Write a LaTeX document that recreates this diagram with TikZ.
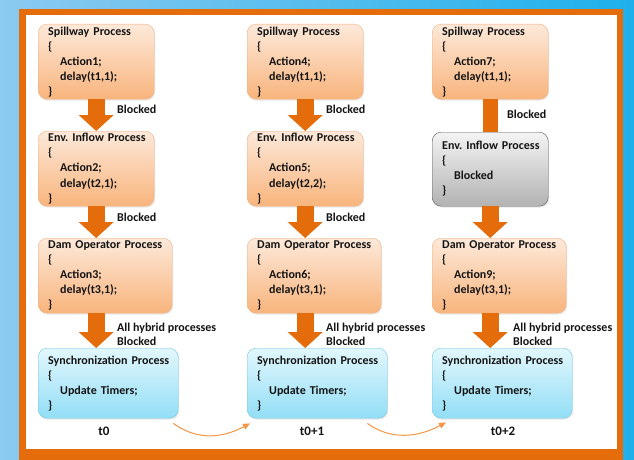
\documentclass[tikz,border=0pt]{standalone}
\usepackage{fontspec}
\setmainfont{Carlito}
\usetikzlibrary{arrows.meta,shadows,calc}
\frenchspacing

\definecolor{bgleft}{RGB}{140,202,240}
\definecolor{bgright}{RGB}{30,176,235}
\definecolor{frameorange}{RGB}{228,108,10}
\definecolor{peachtop}{RGB}{253,233,218}
\definecolor{peachbot}{RGB}{248,180,124}
\definecolor{peachline}{RGB}{243,176,128}
\definecolor{skytop}{RGB}{226,247,253}
\definecolor{skybot}{RGB}{146,222,246}
\definecolor{skyline}{RGB}{118,200,232}
\definecolor{greytop}{RGB}{244,244,244}
\definecolor{greybot}{RGB}{178,178,178}
\definecolor{greyline}{RGB}{90,90,90}
\definecolor{curveorange}{RGB}{247,150,70}
\definecolor{inkdark}{RGB}{20,20,20}

\begin{document}
\begin{tikzpicture}[x=1pt,y=-1pt,
    process/.style ={rounded corners=9pt, draw=peachline, top color=peachtop, bottom color=peachbot,
      drop shadow={opacity=0.18, shadow xshift=1pt, shadow yshift=-1.5pt},
      anchor=north west, align=left, text=inkdark, font=\fontsize{12}{15}\selectfont\bfseries,
      inner xsep=10pt, inner ysep=0pt, text width=96pt, minimum height=75pt},
    syncproc/.style ={process, draw=skyline, top color=skytop, bottom color=skybot,
      text width=120pt, minimum height=70pt},
    idleproc/.style ={process, draw=greyline, top color=greytop, bottom color=greybot,
      minimum height=74pt},
    flow/.style ={line width=17pt, draw=frameorange, -{Triangle[width=35pt, length=16pt, line width=0pt]}},
    shaft/.style ={line width=15pt, draw=frameorange},
    note/.style ={anchor=west, align=left, text=inkdark, inner sep=0pt,
      font=\fontsize{12}{14}\selectfont\bfseries},
    stamp/.style ={text=inkdark, inner sep=0pt, font=\fontsize{13}{15}\selectfont\bfseries},
    timeflow/.style ={draw=curveorange, line width=1pt, -{Triangle[width=6pt, length=7pt]}}]

   \useasboundingbox (0,0) rectangle (634,460);
   \fill[left color=bgleft, right color=bgright] (0,0) rectangle (634,460);
   \fill[frameorange] (19,9) rectangle (623,460);
   \fill[white] (26,15) rectangle (617,449);

   \node[process] (S1) at (38,24) {\mbox{Spillway Process}\\\{\\\hspace*{12pt}Action1;\\\hspace*{12pt}delay(t1,1);\\\}};
   \node[process] (E1) at (38,131) {\mbox{Env. Inflow Process}\\\{\\\hspace*{12pt}Action2;\\\hspace*{12pt}delay(t2,1);\\\}};
   \node[process, text width=114pt] (D1) at (38,238) {\mbox{Dam Operator Process}\\\{\\\hspace*{12pt}Action3;\\\hspace*{12pt}delay(t3,1);\\\}};
   \node[syncproc] (Y1) at (38,348) {\mbox{Synchronization Process}\\\{\\\hspace*{12pt}\mbox{Update Timers;}\\\}};

   \node[process] (S2) at (247,24) {\mbox{Spillway Process}\\\{\\\hspace*{12pt}Action4;\\\hspace*{12pt}delay(t1,1);\\\}};
   \node[process] (E2) at (247,131) {\mbox{Env. Inflow Process}\\\{\\\hspace*{12pt}Action5;\\\hspace*{12pt}delay(t2,2);\\\}};
   \node[process, text width=114pt] (D2) at (247,238) {\mbox{Dam Operator Process}\\\{\\\hspace*{12pt}Action6;\\\hspace*{12pt}delay(t3,1);\\\}};
   \node[syncproc] (Y2) at (247,348) {\mbox{Synchronization Process}\\\{\\\hspace*{12pt}\mbox{Update Timers;}\\\}};

   \node[process] (S3) at (432,24) {\mbox{Spillway Process}\\\{\\\hspace*{12pt}Action7;\\\hspace*{12pt}delay(t1,1);\\\}};
   \node[idleproc] (E3) at (432,132) {\mbox{Env. Inflow Process}\\\{\\\hspace*{12pt}Blocked\\\}};
   \node[process, text width=114pt] (D3) at (432,238) {\mbox{Dam Operator Process}\\\{\\\hspace*{12pt}Action9;\\\hspace*{12pt}delay(t3,1);\\\}};
   \node[syncproc] (Y3) at (432,348) {\mbox{Synchronization Process}\\\{\\\hspace*{12pt}\mbox{Update Timers;}\\\}};

   \draw[flow] (S1.south) to (E1.north);
   \draw[flow] (E1.south) to (S1.south |- D1.north);
   \draw[flow] (S1.south |- D1.south) to (S1.south |- Y1.north);
   \draw[flow] (S2.south) to (E2.north);
   \draw[flow] (E2.south) to (S2.south |- D2.north);
   \draw[flow] (S2.south |- D2.south) to (S2.south |- Y2.north);
   \draw[shaft] (S3.south) to (E3.north);
   \draw[flow] (E3.south) to (S3.south |- D3.north);
   \draw[flow] (S3.south |- D3.south) to (S3.south |- Y3.north);

   \node[note] (b1) at (117,109) {Blocked};
   \node[note] (b2) at (117,217) {Blocked};
   \node[note] (b3) at (117,334) {All hybrid processes\\Blocked};
   \node[note] (b4) at (326,109) {Blocked};
   \node[note] (b5) at (326,217) {Blocked};
   \node[note] (b6) at (326,334) {All hybrid processes\\Blocked};
   \node[note] (b7) at (507,114) {Blocked};
   \node[note] (b8) at (513,334) {All hybrid processes\\Blocked};

   \node[stamp] (T1) at (104,431) {t0};
   \node[stamp] (T2) at (312,431) {t0+1};
   \node[stamp] (T3) at (503,431) {t0+2};

   \draw[timeflow] ($(Y1.south east)+(-5,5)$) .. controls +(22,16) and +(-30,16) .. ($(Y2.south west)+(3,5)$);
   \draw[timeflow] ($(Y2.south east)+(-20,5)$) .. controls +(22,16) and +(-30,16) .. ($(Y3.south west)+(14,4)$);
 \end{tikzpicture}
\end{document}
